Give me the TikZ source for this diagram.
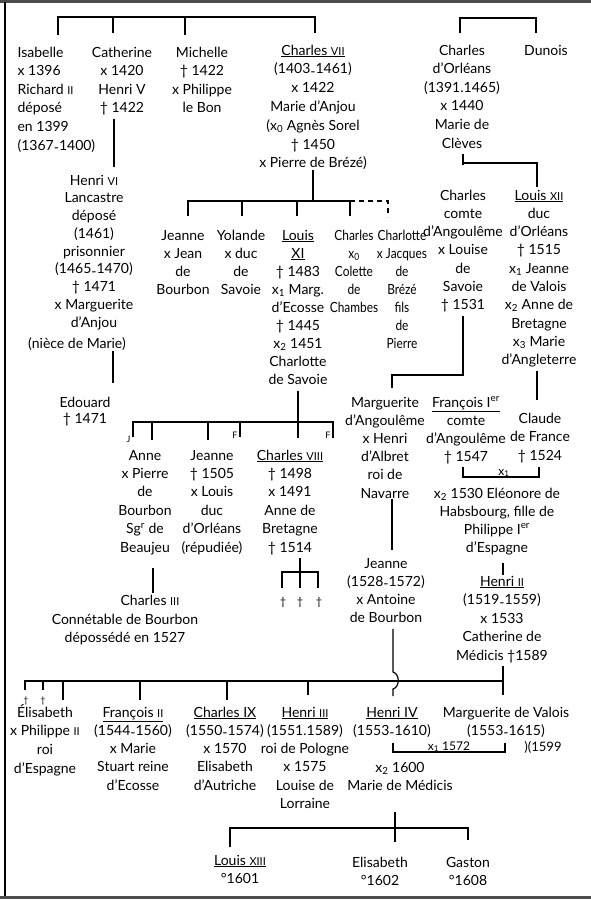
\documentclass[tikz,border=0pt]{standalone}
\usepackage{fontspec}
\setmainfont{Lato}
\newcommand\col[1]{\begin{tabular}[t]{@{}c@{}}#1\end{tabular}}
\newcommand\lcol[1]{\begin{tabular}[t]{@{}l@{}}#1\end{tabular}}
\newcommand\rn[1]{{\fontsize{11}{11}\selectfont #1}}
\newcommand\sbx[1]{\textsubscript{#1}}
\newcommand\dd{\raisebox{-2.5pt}{-}}
\newcommand\dg{†}
\tikzset{
  person/.style={inner sep=0pt, anchor=base, yshift=-5pt, font=\fontsize{14}{#1}\selectfont},
  person/.default=18.5,
  personL/.style={person=#1, anchor=base west},
  personL/.default=18.5,
  narrow/.style={font=\fontsize{14}{#1}\selectfont\addfontfeatures{FakeStretch=0.85}},
  tinylab/.style={inner sep=0pt, anchor=base east, font=\fontsize{9}{9}\selectfont},
  crossmark/.style={inner sep=0pt, anchor=base, yshift=-4pt, font=\fontsize{#1}{#1}\selectfont},
  crossmark/.default=11,
  marr/.style={inner sep=0pt, anchor=base, font=\fontsize{#1}{#1}\selectfont},
  marr/.default=12,
}
\begin{document}
\begin{tikzpicture}[x=1pt,y=-1pt,line width=1.2pt]
\useasboundingbox (0,0) rectangle (591,900);
% frame
\draw[line width=3pt, black!70] (0,1.5) -- (591,1.5);
\draw[line width=1.3pt] (5,2) -- (5,896);
\draw[line width=2.5pt, black!70] (0,897.5) -- (591,897.5);

% ---------- nodes ----------
\node[personL=18.6] (isabelle) at (17,52) {\lcol{Isabelle\\x 1396\\Richard \rn{II}\\déposé\\en 1399\\(1367\dd1400)}};
\node[person=18.5] (catherine) at (122,52) {\col{Catherine\\x 1420\\Henri V\\\dg\ 1422}};
\node[person=18.5] (michelle) at (202,52) {\col{Michelle\\\dg\ 1422\\x Philippe\\le Bon}};
\node[person=18.8] (charles7) at (313,50) {\col{\underline{Charles \rn{VII}}\\(1403\dd1461)\\x 1422\\Marie d'Anjou\\(x\sbx{0} Agnès Sorel\\\dg\ 1450\\x Pierre de Brézé)}};
\node[person=18.6] (charlesorl) at (462,50) {\col{Charles\\d'Orléans\\(1391.1465)\\x 1440\\Marie de\\Clèves}};
\node[person] (dunois) at (546,50) {Dunois};

\node[person=17.75] (henri6) at (94,180) {\col{Henri \rn{VI}\\Lancastre\\déposé\\(1461)\\prisonnier\\(1465\dd1470)\\\dg\ 1471\\x Marguerite\\d'Anjou}};
\node[person] (niece) at (77,343) {(nièce de Marie)};
\node[person=16] (edouard) at (85,402) {\col{Edouard\\\dg\ 1471}};

\node[person=18] (jeanne1) at (183,235) {\col{Jeanne\\x Jean\\de\\Bourbon}};
\node[person=18] (yolande) at (241,235) {\col{Yolande\\x duc\\de\\Savoie}};
\node[person=18.1] (louis11) at (298,235) {\col{\underline{Louis}\\\underline{XI}\\\dg\ 1483\\x\sbx{1} Marg.\\d'Ecosse\\\dg\ 1445\\x\sbx{2} 1451\\Charlotte\\de Savoie}};
\node[person=18.1, narrow=18.1] (charles0) at (354,235) {\col{Charles\\x\sbx{0}\\Colette\\de\\Chambes}};
\node[person=18.1, narrow=18.1] (charlotte) at (402,235) {\col{Charlotte\\x Jacques\\de\\Brézé\\fils\\de\\Pierre}};

\node[person=18.3] (charlesang) at (463,195) {\col{Charles\\comte\\d'Angoulême\\x Louise\\de\\Savoie\\\dg\ 1531}};
\node[person=18.3] (louis12) at (539,195) {\col{\underline{Louis \rn{XII}}\\duc\\d'Orléans\\\dg\ 1515\\x\sbx{1} Jeanne\\de Valois\\x\sbx{2} Anne de\\Bretagne\\x\sbx{3} Marie\\d'Angleterre}};

\node[person=18.4] (anne) at (145,455) {\col{Anne\\x Pierre\\de\\Bourbon\\Sg\textsuperscript{r} de\\Beaujeu}};
\node[person=18.4] (jeanne2) at (212,455) {\col{Jeanne\\\dg\ 1505\\x Louis\\duc\\d'Orléans\\(répudiée)}};
\node[person=18.4] (charles8) at (290,455) {\col{\underline{Charles \rn{VIII}}\\\dg\ 1498\\x 1491\\Anne de\\Bretagne\\\dg\ 1514}};
\node[crossmark] (cx1) at (283,601) {\dg};
\node[crossmark] (cx2) at (300,601) {\dg};
\node[crossmark] (cx3) at (319,601) {\dg};
\node[person] (charles3) at (150,600) {Charles \rn{III}};
\node[person=18.2] (connetable) at (125,619) {\col{Connétable de Bourbon\\dépossédé en 1527}};

\node[person=18.2] (marguerite) at (385,402) {\col{Marguerite\\d'Angoulême\\x Henri\\d'Albret\\roi de\\Navarre}};
\node[person=18] (francois1) at (466,402) {\col{\underline{François I\textsuperscript{er}}\\comte\\d'Angoulême\\\dg\ 1547}};
\node[person=18.5] (claude) at (540,418) {\col{Claude\\de France\\\dg\ 1524}};
\node[marr] (m1) at (504,475) {x\sbx{1}};
\node[person=18] (eleonore) at (497,493) {\col{x\sbx{2} 1530 Eléonore de\\Habsbourg, fille de\\Philippe I\textsuperscript{er}\\d'Espagne}};
\node[person=18.5] (henri2) at (502,581) {\col{\underline{Henri \rn{II}}\\(1519\dd1559)\\x 1533\\Catherine de\\Médicis \dg 1589}};
\node[person=18.3] (jeanne3) at (386,563) {\col{Jeanne\\(1528\dd1572)\\x Antoine\\de Bourbon}};

\node[crossmark=9] (cx4) at (26,699) {\dg};
\node[crossmark=9] (cx5) at (43,699) {\dg};
\node[person=18.7] (elisabeth1) at (45,712) {\col{Élisabeth\\x Philippe \rn{II}\\roi\\d'Espagne}};
\node[person=18.3] (francois2) at (133,712) {\col{\underline{François \rn{II}}\\(1544\dd1560)\\x Marie\\Stuart reine\\d'Ecosse}};
\node[person=18.3] (charles9) at (225,712) {\col{\underline{Charles IX}\\(1550\dd1574)\\x 1570\\Elisabeth\\d'Autriche}};
\node[person=18.3] (henri3) at (305,712) {\col{\underline{Henri \rn{III}}\\(1551.1589)\\roi de Pologne\\x 1575\\Louise de\\Lorraine}};
\node[person=18] (henri4) at (392,712) {\col{\underline{Henri IV}\\(1553\dd1610)}};
\node[person=18] (marie) at (400,767) {\col{x\sbx{2} 1600\\Marie de Médicis}};
\node[person=18] (margval) at (506,712) {\col{Marguerite de Valois\\(1553\dd1615)}};
\node[marr] (m2) at (449,750) {x\sbx{1} 1572};
\node[marr=13] (divorce) at (543,751) {)(1599};

\node[person=18] (louis13) at (240,860) {\col{\underline{Louis \rn{XIII}}\\°1601}};
\node[person=18] (elisabeth2) at (380,862) {\col{Elisabeth\\°1602}};
\node[person=18] (gaston) at (468,862) {\col{Gaston\\°1608}};

% ---------- connectors ----------
% top siblings
\coordinate (tl) at (58,17); \coordinate (tr) at (315,17);
\draw (58,35) -- (tl) -- (tr) -- (315,33);
\draw (113,17) -- (113,33);
\draw (185,17) -- (185,35);
\draw (460,33) -- (460,18) -- (536,18) -- (536,33);

% Catherine -> Henri VI
\coordinate (kCat) at (114,167);
\draw (catherine.south -| kCat) -- (kCat);
% Henri VI -> Edouard
\coordinate (kH6) at (113,383);
\draw (niece.south -| kH6) -- (kH6);

% Charles VII -> children
\coordinate (kC7) at (313,201);
\draw ([yshift=4pt]charles7.south -| kC7) -- (kC7);
\draw (188,216) -- (188,201) -- (350,201) -- (350,216);
\draw (242,201) -- (242,216);
\draw (297,201) -- (297,216);
\draw[dash pattern=on 5pt off 4pt] (350,201) -- (388,201) -- (388,217);

% Charles d'Orleans -> children
\coordinate (kCO) at (463,163);
\draw (charlesorl.south -| kCO) -- (463,165);
\draw (kCO) -- (537,163) -- (537,187);

% Louis XI -> children
\coordinate (kL11) at (298,422);
\draw (louis11.south -| kL11) -- (298,438);
\draw (133,437) -- (133,422) -- (333,422) -- (333,438);
\draw (152,422) -- (152,440);
\draw (208,422) -- (208,440);
\draw (240,422) -- (240,437);
\node[tinylab] (lj) at (131,442) {J};
\node[tinylab] (lf1) at (238,438) {F};
\node[tinylab] (lf2) at (331,438) {F};

% Charles VIII -> children
\coordinate (kC8) at (300,572);
\draw (charles8.south -| kC8) -- (kC8);
\draw (282,588) -- (282,572) -- (318,572) -- (318,588);
\draw (kC8) -- (300,588);

% Anne -> Charles III
\coordinate (kAn) at (153,593);
\draw ([yshift=-10pt]anne.south -| kAn) -- (kAn);

% Charles comte -> children
\coordinate (kCA) at (463,375);
\draw (charlesang.south -| kCA) -- (kCA) -- (392,375) -- (392,388);

% Louis XII -> Claude
\coordinate (kL12) at (537,400);
\draw (louis12.south -| kL12) -- (kL12);

% Francois I x Claude
\draw (463,467) -- (463,477) -- (539,477) -- (539,467);

% -> Henri II
\coordinate (kH2) at (503,575);
\draw ([yshift=-5pt]eleonore.south -| kH2) -- (kH2);

% Marguerite -> Jeanne
\coordinate (kMA) at (392,550);
\draw ([yshift=5pt]marguerite.south -| kMA) -- (kMA);

% Jeanne -> Henri IV (hopping over)
\coordinate (kJ) at (393,672);
\draw (jeanne3.south -| kJ) -- (kJ) .. controls (400,674) and (400,687) .. (393,689) -- (393,696);

% Henri II -> children
\coordinate (kH2b) at (503,681);
\draw (henri2.south -| kH2b) -- (503,695);
\draw (25,690) -- (25,681) -- (kH2b);
\draw (43,681) -- (43,690);
\draw (63,681) -- (63,700);
\draw (140,681) -- (140,700);
\draw (227,681) -- (227,700);
\draw (308,681) -- (308,695);

% Henri IV x Marguerite de Valois
\draw (393,743) -- (393,752) -- (505,752) -- (505,743);

% Henri IV -> children
\coordinate (kH4) at (395,828);
\draw ([yshift=-16pt]marie.south -| kH4) -- (395,842);
\draw (230,847) -- (230,828) -- (468,828) -- (468,840);
\end{tikzpicture}
\end{document}
